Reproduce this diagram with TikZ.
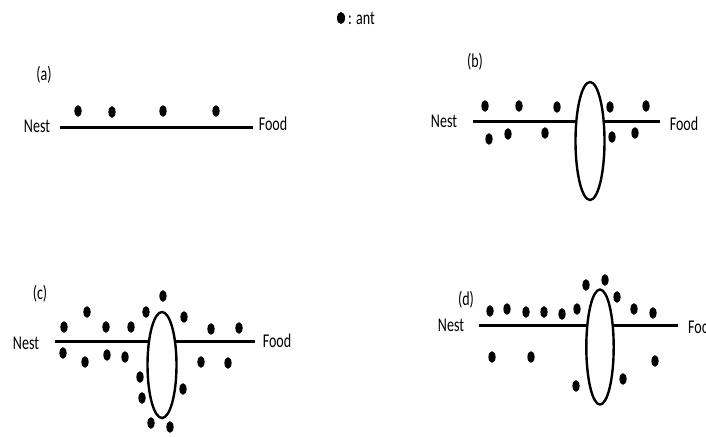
\documentclass[tikz,border=0pt]{standalone}
\usepackage{fontspec}
\setmainfont{Carlito}
\newcommand\sqz[1]{\scalebox{0.72}[1]{#1}}
\tikzset{
  lbl/.style={inner sep=0pt, font=\fontsize{19.5}{22}\selectfont},
  track/.style={line width=3pt},
  obst/.style={line width=2.4pt},
  antdot/.style={fill=black}
}
\begin{document}
\begin{tikzpicture}[x=1pt,y=-1pt]
\useasboundingbox (0,0) rectangle (706,436);
\clip (0,0) rectangle (706,436);
\fill[white] (0,0) rectangle (706,436);
% legend
\fill[antdot] (341,18) ellipse [x radius=4pt, y radius=6pt];
\node[lbl, anchor=west] (leg) at (348,18) {\sqz{: ant}};

% ---------- (a)
\node[lbl] (la) at (44,75) {\sqz{(a)}};
\node[lbl] (nesta) at (37,126) {\sqz{Nest}};
\node[lbl] (fooda) at (273,124) {\sqz{Food}};
\coordinate (a1) at (60,127);
\coordinate (a2) at (253,127);
\draw[track] (a1) -- (a2);
\foreach \p in {(78,111),(112,112),(163,111),(216,111)}
  \fill[antdot] \p ellipse [x radius=3.6pt, y radius=5.8pt];

% ---------- (b)
\node[lbl] (lb) at (475,62) {\sqz{(b)}};
\node[lbl] (nestb) at (444,121) {\sqz{Nest}};
\node[lbl] (foodb) at (684,124) {\sqz{Food}};
\coordinate (b1) at (473,121);
\coordinate (b2) at (660,121);
\draw[track] (b1) -- (b2);
\draw[obst, fill=white] (590,141) ellipse [x radius=14.5pt, y radius=59pt];
\foreach \p in {(485,106),(519,106),(557,107),(610,107),(646,106),
                (489,139),(508,134),(545,133),(612,137),(635,133)}
  \fill[antdot] \p ellipse [x radius=3.6pt, y radius=5.8pt];

% ---------- (c)
\node[lbl] (lc) at (40,294) {\sqz{(c)}};
\node[lbl] (nestc) at (26,343) {\sqz{Nest}};
\node[lbl] (foodc) at (277,341) {\sqz{Food}};
\coordinate (c1) at (55,341);
\coordinate (c2) at (255,341);
\draw[track] (c1) -- (c2);
\draw[obst, fill=white] (162,365) ellipse [x radius=14.5pt, y radius=53pt];
\foreach \p in {(163,296),(87,312),(146,312),(184,317),(64,327),(106,327),(131,327),(211,329),(239,328),
                (63,353),(85,362),(107,355),(125,357),(201,362),(228,363),
                (140,377),(142,398),(183,389),(151,423),(170,427)}
  \fill[antdot] \p ellipse [x radius=3.6pt, y radius=5.8pt];

% ---------- (d)
\node[lbl] (ld) at (466,300) {\sqz{(d)}};
\node[lbl] (nestd) at (451,325) {\sqz{Nest}};
\node[lbl, anchor=west] (foodd) at (688,327) {\sqz{Food}};
\coordinate (d1) at (479,325);
\coordinate (d2) at (678,325);
\draw[track] (d1) -- (d2);
\draw[obst, fill=white] (600,347) ellipse [x radius=13.7pt, y radius=57.5pt];
\foreach \p in {(605,280),(586,285),(617,297),(490,311),(507,309),(526,312),(544,312),(562,314),(577,309),(634,309),(653,313),
                (492,357),(531,357),(655,361),(576,386),(623,379)}
  \fill[antdot] \p ellipse [x radius=3.6pt, y radius=5.8pt];
\end{tikzpicture}
\end{document}
